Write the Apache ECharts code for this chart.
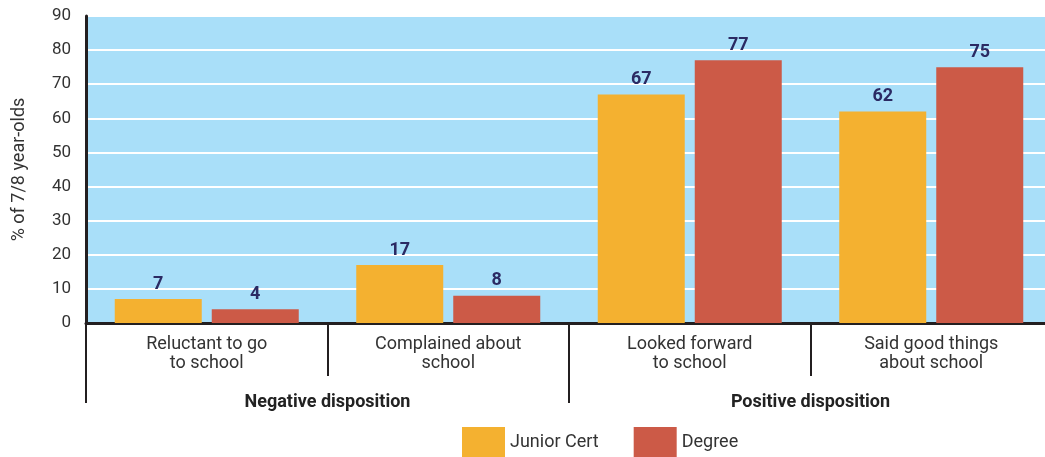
<!DOCTYPE html>
<html>
<head>
<meta charset="utf-8">
<script src="https://cdn.jsdelivr.net/npm/echarts@6/dist/echarts.min.js"></script>
<style>html,body{margin:0;padding:0;background:#fff;overflow:hidden;}#c{width:1052px;height:457px;}</style>
</head>
<body>
<div id="c"></div>
<script>
const categories = ['Reluctant to go\nto school', 'Complained about\nschool', 'Looked forward\nto school', 'Said good things\nabout school'];
const groups = ['Negative disposition', 'Positive disposition'];
const juniorCert = [7, 17, 67, 62];
const degree = [4, 8, 77, 75];
const yTicks = { min: 0, max: 90, interval: 10 };
const yName = '% of 7/8 year-olds';

const font = 'Roboto, "Noto Sans", sans-serif';
const chart = echarts.init(document.getElementById('c'));
const labelStyle = {
  show: true, position: 'top', distance: 6,
  color: '#2b2a63', fontWeight: 'bold', fontSize: 18, fontFamily: font
};
chart.setOption({
  animation: false,
  textStyle: { fontFamily: font },
  grid: { left: 86, right: 0, top: 16, bottom: 134, show: true, backgroundColor: '#a9dff9', borderWidth: 0 },
  legend: {
    left: 462, top: 427, padding: 0, itemWidth: 43, itemHeight: 30, itemGap: 35, icon: 'rect',
    textStyle: { fontSize: 18, color: '#333', fontFamily: font },
    data: ['Junior Cert', 'Degree']
  },
  xAxis: [
    {
      type: 'category', data: categories, position: 'bottom',
      axisLine: { show: true, lineStyle: { color: '#231f20', width: 3 } },
      axisTick: { show: true, length: 53, lineStyle: { color: '#231f20', width: 2 } },
      axisLabel: { interval: 0, margin: 12, fontSize: 18, lineHeight: 19, color: '#333', fontFamily: font }
    },
    {
      type: 'category', data: groups, position: 'bottom',
      axisLine: { show: false },
      axisTick: { show: true, length: 80, lineStyle: { color: '#231f20', width: 2 } },
      axisLabel: { interval: 0, margin: 70, fontSize: 18, fontWeight: 'bold', color: '#222', fontFamily: font }
    }
  ],
  yAxis: {
    type: 'value', min: yTicks.min, max: yTicks.max, interval: yTicks.interval,
    name: yName, nameLocation: 'middle', nameGap: 58, nameRotate: 90,
    nameTextStyle: { fontSize: 18, color: '#333', fontFamily: font },
    axisLine: { show: true, lineStyle: { color: '#231f20', width: 3 } },
    axisTick: { show: false },
    axisLabel: { margin: 15, fontSize: 17, color: '#333', fontFamily: font },
    splitLine: { show: true, lineStyle: { color: '#ffffff', width: 2 } }
  },
  series: [
    { name: 'Junior Cert', type: 'bar', xAxisIndex: 0, data: juniorCert, barWidth: 87, barGap: '11.5%',
      itemStyle: { color: '#f4b130' }, label: labelStyle },
    { name: 'Degree', type: 'bar', xAxisIndex: 0, data: degree, barWidth: 87, barGap: '11.5%',
      itemStyle: { color: '#cc5a47' }, label: labelStyle }
  ]
});
</script>
</body>
</html>
